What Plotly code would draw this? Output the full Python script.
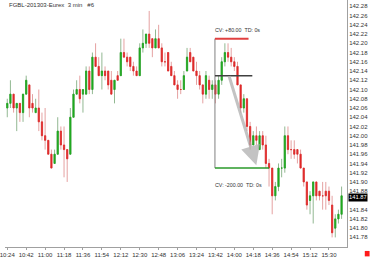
import plotly.graph_objects as go
import pandas as pd

# ---- data (FGBL 3-min candles, 10:24 .. 15:42) ----
start_time = "2013-01-15 10:24"
bar_minutes = 3

opens = [
    142.06,142.07,142.09,142.06,142.07,142.05,142.09,142.11,142.07,142.05,
    142.06,142.03,142.00,141.99,141.96,141.94,141.96,142.01,141.98,141.97,
    141.96,142.04,142.09,142.10,142.09,142.09,142.14,142.10,142.17,142.15,
    142.13,142.14,142.14,142.12,142.10,142.13,142.13,142.18,142.17,142.17,
    142.15,142.14,142.13,142.19,142.20,142.22,142.21,142.19,142.21,142.19,
    142.16,142.18,142.15,142.13,142.11,142.10,142.10,142.14,142.18,142.17,
    142.14,142.13,142.11,142.09,142.12,142.10,142.11,142.09,142.12,142.16,
    142.18,142.17,142.16,142.15,142.11,142.06,142.08,142.02,141.98,142.00,
    141.97,142.00,141.98,141.94,141.93,141.87,141.89,141.93,141.93,142.00,
    141.97,141.97,141.97,141.96,141.93,141.90,141.86,141.87,141.90,141.88,
    141.87,141.88,141.88,141.85,141.80,141.82,141.83]
highs = [
    142.08,142.12,142.09,142.07,142.07,142.09,142.13,142.11,142.09,142.08,
    142.10,142.05,142.06,141.99,141.97,141.97,142.04,142.02,142.02,141.97,
    142.06,142.10,142.12,142.13,142.10,142.15,142.15,142.18,142.20,142.17,
    142.18,142.15,142.14,142.14,142.12,142.14,142.21,142.21,142.18,142.17,
    142.16,142.15,142.20,142.23,142.22,142.27,142.21,142.23,142.24,142.20,
    142.18,142.18,142.16,142.14,142.12,142.12,142.14,142.19,142.19,142.17,
    142.16,142.14,142.11,142.14,142.13,142.12,142.12,142.13,142.17,142.20,
    142.20,142.19,142.17,142.16,142.11,142.09,142.08,142.03,142.01,142.02,
    142.01,142.01,142.00,141.95,141.93,141.90,141.94,141.95,142.02,142.02,
    141.99,141.99,141.97,141.97,141.93,141.90,141.88,141.90,141.90,141.88,
    141.90,141.90,141.89,141.87,141.83,141.84,141.89]
lows = [
    142.04,142.06,142.05,142.01,142.03,142.03,142.09,142.04,142.05,142.05,
    142.01,141.99,141.97,141.96,141.93,141.94,141.96,141.97,141.91,141.90,
    141.96,142.04,142.09,142.07,142.05,142.09,142.09,142.09,142.15,142.13,
    142.10,142.12,142.10,142.09,142.07,142.12,142.13,142.17,142.15,142.14,
    142.13,142.13,142.13,142.18,142.19,142.19,142.17,142.19,142.19,142.15,
    142.15,142.14,142.13,142.11,142.08,142.09,142.10,142.14,142.16,142.14,
    142.11,142.10,142.07,142.08,142.08,142.08,142.07,142.08,142.11,142.15,
    142.16,142.15,142.14,142.11,142.05,142.05,142.01,141.97,141.98,141.98,
    141.97,141.97,141.93,141.89,141.83,141.86,141.88,141.91,141.92,141.96,
    141.95,141.95,141.94,141.93,141.89,141.84,141.83,141.81,141.86,141.86,
    141.84,141.84,141.85,141.78,141.78,141.81,141.82]
closes = [
    142.07,142.09,142.06,142.07,142.05,142.09,142.12,142.06,142.06,142.06,
    142.03,142.00,141.99,141.96,141.93,141.96,142.01,141.98,141.97,141.95,
    142.04,142.09,142.10,142.08,142.10,142.14,142.10,142.17,142.15,142.13,
    142.14,142.13,142.11,142.09,142.12,142.12,142.18,142.17,142.16,142.15,
    142.14,142.13,142.19,142.20,142.22,142.20,142.19,142.21,142.19,142.16,
    142.16,142.14,142.13,142.11,142.10,142.10,142.13,142.17,142.16,142.14,
    142.13,142.11,142.09,142.13,142.10,142.11,142.09,142.12,142.16,142.18,
    142.17,142.16,142.15,142.11,142.06,142.08,142.02,141.98,142.00,141.99,
    142.00,141.98,141.94,141.93,141.87,141.89,141.93,141.93,142.00,141.97,
    141.97,141.96,141.96,141.93,141.90,141.85,141.87,141.90,141.87,141.87,
    141.87,141.87,141.86,141.79,141.82,141.83,141.87]

# price-axis labels (141.86 is hidden behind the last-price box)
ytick_vals = [141.78, 141.80, 141.82, 141.84, 141.88, 141.90, 141.92, 141.94, 141.96,
              141.98, 142.00, 142.02, 142.04, 142.06, 142.08, 142.10, 142.12, 142.14,
              142.16, 142.18, 142.20, 142.22, 142.24, 142.26, 142.28]

# drawing-tool levels
entry_price = 142.13
target_price = 142.21
stop_price = 141.93
target_label = "CV: +80.00  TD: 0s"
stop_label = "CV: -200.00  TD: 0s"
last_price = 141.87
title_text = "FGBL-201303-Eurex  3 min   #6"

times = pd.date_range(start_time, periods=len(opens), freq=f"{bar_minutes}min")
body_hi = [max(o, c) for o, c in zip(opens, closes)]
body_lo = [min(o, c) for o, c in zip(opens, closes)]

GREEN = "#1faa1f"
RED = "#e02828"
FONT = "Liberation Sans"

fig = go.Figure()
# wicks (light)
fig.add_trace(go.Candlestick(
    x=times, open=opens, high=highs, low=lows, close=closes,
    increasing=dict(line=dict(color="rgba(110,160,110,0.75)", width=1), fillcolor="rgba(110,160,110,0.75)"),
    decreasing=dict(line=dict(color="rgba(220,130,130,0.75)", width=1), fillcolor="rgba(220,130,130,0.75)"),
    whiskerwidth=0, showlegend=False, hoverinfo="skip"))
# bodies
fig.add_trace(go.Candlestick(
    x=times, open=opens, high=body_hi, low=body_lo, close=closes,
    increasing=dict(line=dict(color=GREEN, width=0.6), fillcolor=GREEN),
    decreasing=dict(line=dict(color=RED, width=0.6), fillcolor=RED),
    whiskerwidth=0, showlegend=False, hoverinfo="skip"))

t0 = pd.Timestamp(start_time)
def tk(k):
    return t0 + pd.Timedelta(seconds=k * bar_minutes * 60)

box_x0 = tk(65.85)
shapes = [
    dict(type="line", xref="x", yref="y", x0=box_x0, x1=box_x0, y0=target_price, y1=stop_price,
         line=dict(color="#808080", width=1)),
    dict(type="line", xref="x", yref="y", x0=box_x0, x1=tk(76.5), y0=target_price, y1=target_price,
         line=dict(color="#e04040", width=2)),
    dict(type="line", xref="x", yref="y", x0=box_x0, x1=tk(77.7), y0=entry_price, y1=entry_price,
         line=dict(color="#404040", width=1.5)),
    dict(type="line", xref="x", yref="y", x0=box_x0, x1=tk(83), y0=stop_price, y1=stop_price,
         line=dict(color="#2a9a2a", width=1.5)),
    dict(type="rect", xref="paper", yref="paper", x0=1.052, x1=1.066, y0=-0.038, y1=-0.016,
         fillcolor="#ff1a1a", line=dict(width=0)),
]

annotations = [
    dict(x=0.005, y=1.0, xref="paper", yref="paper", xanchor="left", yanchor="top",
         text=title_text.replace(" ", "\u00a0"), showarrow=False,
         font=dict(family=FONT, size=6, color="#333333")),
    dict(x=tk(66.2), y=target_price, xref="x", yref="y", xanchor="left", yanchor="bottom",
         yshift=4, xshift=-3, text=target_label.replace(" ", "\u00a0"), showarrow=False,
         font=dict(family=FONT, size=5.3, color="#333333")),
    dict(x=tk(66.2), y=stop_price, xref="x", yref="y", xanchor="left", yanchor="top",
         yshift=-12, xshift=-3, text=stop_label.replace(" ", "\u00a0"), showarrow=False,
         font=dict(family=FONT, size=5.3, color="#333333")),
    dict(x=tk(78.97), y=141.936, ax=tk(70.2), ay=142.132, xref="x", yref="y", axref="x", ayref="y",
         text="", showarrow=True, arrowhead=2, arrowsize=1.3, arrowwidth=3,
         arrowcolor="rgba(175,175,175,0.75)"),
    dict(x=1.0, y=last_price, xref="paper", yref="y", xanchor="left", yanchor="middle",
         xshift=1, yshift=-1.5, height=6.5, text=f"{last_price:.2f}", showarrow=False,
         bgcolor="#000000", borderpad=0, font=dict(family=FONT, size=5.8, color="#ffffff")),
]

fig.update_layout(
    width=370, height=258,
    margin=dict(l=0, r=23, t=0, b=10),
    paper_bgcolor="white", plot_bgcolor="white",
    showlegend=False, boxgap=0.45,
    shapes=shapes, annotations=annotations,
    xaxis=dict(type="date", range=[tk(-0.72), tk(107.72)], rangeslider=dict(visible=False),
               showgrid=False, zeroline=False, showline=True, linecolor="#a0a0a0", linewidth=1,
               ticks="outside", ticklen=2, tickcolor="#a0a0a0", ticklabeloverflow="allow",
               tick0=start_time, dtick=18 * 60 * 1000, tickformat="%H:%M",
               tickfont=dict(family=FONT, size=6, color="#333333")),
    yaxis=dict(side="right", range=[141.7592, 142.2937], showgrid=False, zeroline=False,
               showline=True, linecolor="#a0a0a0", linewidth=1, ticks="",
               tickmode="array", tickvals=ytick_vals, tickformat=".2f",
               tickfont=dict(family=FONT, size=6, color="#333333")),
)

fig.write_html("out.html")
